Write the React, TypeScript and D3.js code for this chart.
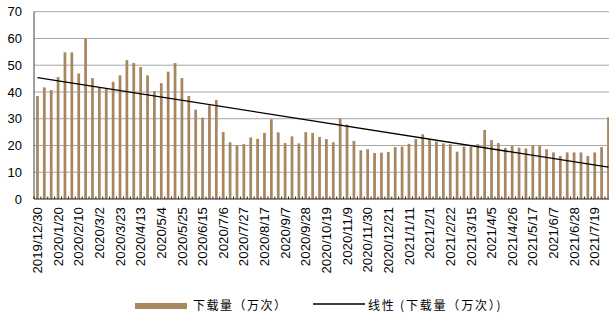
import React from "react";
import * as d3 from "d3";

const tickLabels = [
  "2019/12/30","2020/1/20","2020/2/10","2020/3/2","2020/3/23","2020/4/13","2020/5/4",
  "2020/5/25","2020/6/15","2020/7/6","2020/7/27","2020/8/17","2020/9/7","2020/9/28",
  "2020/10/19","2020/11/9","2020/11/30","2020/12/21","2021/1/11","2021/2/1","2021/2/22",
  "2021/3/15","2021/4/5","2021/4/26","2021/5/17","2021/6/7","2021/6/28","2021/7/19",
];

const downloads = [
  38.5, 41.7, 40.7, 45.6, 54.8, 54.8, 46.9, 59.9, 45.2, 41.7,
  41.1, 43.8, 46.2, 51.9, 50.8, 49.3, 46.2, 40.3, 43.3, 47.6,
  50.8, 45.2, 38.5, 33.4, 30.4, 35.0, 37.0, 25.0, 21.2, 20.0,
  20.5, 23.0, 22.5, 24.7, 29.8, 24.9, 20.9, 23.4, 20.8, 25.0,
  24.7, 23.2, 22.4, 21.2, 30.1, 27.8, 21.7, 18.2, 18.6, 17.2,
  17.3, 17.6, 19.4, 19.6, 20.6, 22.4, 24.2, 22.4, 21.5, 20.8,
  20.5, 17.7, 19.6, 19.6, 20.5, 25.8, 22.0, 20.9, 19.1, 19.9,
  19.2, 18.9, 19.9, 19.9, 18.6, 17.4, 16.1, 17.4, 17.4, 17.4,
  16.1, 17.4, 19.4, 30.5,
];

const yTicks = [0, 10, 20, 30, 40, 50, 60, 70];
const seriesName = "下载量（万次）";
const trendName = "线性 (下载量（万次）)";

export default function App() {
  const W = 609, H = 320;
  const left = 34, bottom = 199, top = 11.7;
  const step = 6.88;
  const n = downloads.length;
  const idx = downloads.map((_, i) => i);
  const x = d3.scaleBand<number>().domain(idx).range([left, left + n * step]).paddingInner(0.6).paddingOuter(0.3);
  const y = d3.scaleLinear().domain([0, 70]).range([bottom, top]);
  const cx = (i: number) => (x(i) as number) + x.bandwidth() / 2;

  // least-squares linear trend
  const xm = d3.mean(idx) as number;
  const ym = d3.mean(downloads) as number;
  let sxy = 0, sxx = 0;
  idx.forEach((i) => { sxy += (i - xm) * (downloads[i] - ym); sxx += (i - xm) * (i - xm); });
  const slope = sxy / sxx;
  const icpt = ym - slope * xm;
  const trend = d3.line<number>().x((i) => cx(i)).y((i) => y(icpt + slope * i));

  const font = "'Liberation Sans', Arial, sans-serif";
  const cjk = "'Noto Sans CJK SC', sans-serif";

  return (
    <svg width={W} height={H} style={{ position: "absolute", left: 0, top: 0, background: "#fff" }}>
      {yTicks.filter((t) => t > 0).map((t) => (
        <line key={t} x1={left} x2={W} y1={y(t)} y2={y(t)} stroke="#a6a6a6" strokeWidth={1} />
      ))}
      {yTicks.map((t) => (
        <text key={t} x={22} y={y(t)} dy="0.35em" textAnchor="end" fontFamily={font} fontSize={13} fill="#000">{t}</text>
      ))}
      {downloads.map((v, i) => (
        <rect key={i} x={x(i)} y={y(v)} width={x.bandwidth()} height={bottom - y(v)} fill="#a8865f" />
      ))}
      <line x1={left} x2={left} y1={top} y2={bottom} stroke="#404040" strokeWidth={1} />
      <line x1={left} x2={W} y1={bottom} y2={bottom} stroke="#202020" strokeWidth={1} />
      {d3.range(n + 1).map((k) => {
        const xx = left + k * step;
        return <line key={k} x1={xx} x2={xx} y1={bottom} y2={bottom - 2.5} stroke="#202020" strokeWidth={1} />;
      })}
      {tickLabels.map((lab, j) => {
        const i = j * 3;
        return (
          <text key={lab} transform={`translate(${cx(i)},${207}) rotate(-90)`} dy="0.35em" textAnchor="end"
            fontFamily={font} fontSize={13.3} fill="#000">{lab}</text>
        );
      })}
      <path d={trend([0, n - 1]) as string} fill="none" stroke="#000" strokeWidth={1.3} />
      <rect x={135} y={303} width={52} height={6} fill="#a8865f" />
      <text x={193} y={306} dy="0.35em" fontFamily={cjk} fontSize={12} letterSpacing={1.5} fill="#000">{seriesName}</text>
      <line x1={313} x2={365} y1={304} y2={304} stroke="#000" strokeWidth={1.3} />
      <text x={368} y={306} dy="0.35em" fontFamily={cjk} fontSize={12} letterSpacing={1.8} fill="#000">{trendName}</text>
    </svg>
  );
}
